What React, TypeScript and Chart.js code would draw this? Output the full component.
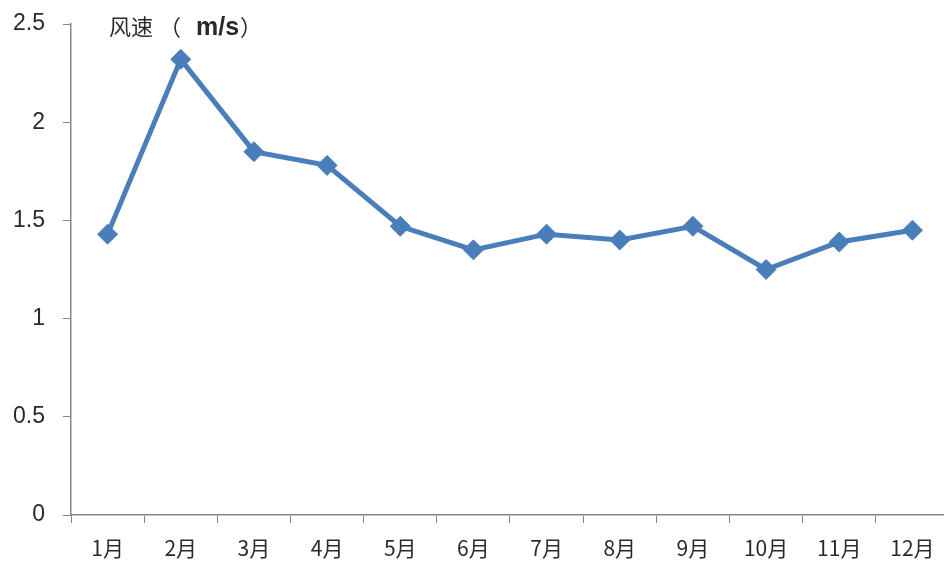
import React, { useEffect, useRef } from "react";
import { Chart, registerables } from "chart.js";

Chart.register(...registerables);

const categories = ["1月", "2月", "3月", "4月", "5月", "6月", "7月", "8月", "9月", "10月", "11月", "12月"];
const windSpeed = [1.43, 2.32, 1.85, 1.78, 1.47, 1.35, 1.43, 1.4, 1.47, 1.25, 1.39, 1.45];
const yMin = 0;
const yMax = 2.5;
const yStep = 0.5;
const titleParts = ["风速", "（", "m/s", "）"];

const FONT = "'Noto Sans CJK SC', 'Noto Sans', sans-serif";

const titlePlugin = {
  id: "cornerTitle",
  afterDraw(chart: any) {
    const ctx = chart.ctx;
    ctx.save();
    ctx.fillStyle = "#2a2a2a";
    ctx.textBaseline = "middle";
    ctx.textAlign = "left";
    const xs = [109, 159, 196, 240];
    const y = 27;
    const fonts = [`normal 22px ${FONT}`, `normal 22px ${FONT}`, `bold 25px 'Liberation Sans', sans-serif`, `normal 22px ${FONT}`];
    titleParts.forEach((t, i) => {
      ctx.font = fonts[i];
      ctx.fillText(t, xs[i], i === 2 ? y + 1 : y);
    });
    ctx.restore();
  },
};

export default function App() {
  const ref = useRef<HTMLCanvasElement | null>(null);
  useEffect(() => {
    if (!ref.current) return;
    const chart = new Chart(ref.current, {
      type: "line",
      data: {
        labels: categories,
        datasets: [
          {
            data: windSpeed,
            borderColor: "#4A7EBB",
            backgroundColor: "#4A7EBB",
            borderWidth: 5,
            pointStyle: "rectRot",
            pointRadius: 10,
            pointBorderWidth: 1,
            pointBackgroundColor: "#4A7EBB",
            pointBorderColor: "#4A7EBB",
            tension: 0,
            clip: false as any,
          },
        ],
      },
      options: {
        responsive: false,
        animation: false,
        layout: { autoPadding: false, padding: { top: 24, right: 0, left: 0, bottom: 0 } },
        plugins: { legend: { display: false }, tooltip: { enabled: false }, title: { display: false } },
        scales: {
          x: {
            offset: true,
            grid: {
              offset: true,
              drawOnChartArea: false,
              drawTicks: true,
              tickLength: 8,
              color: "#868686",
            },
            border: { color: "#868686", width: 1.5 },
            ticks: {
              color: "#2a2a2a",
              font: { size: 21, family: FONT },
              padding: 12,
              maxRotation: 0,
              autoSkip: false,
            },
            afterFit: (s: any) => {
              s.height = 50;
              s.paddingLeft = 0;
              s.paddingRight = 0;
            },
          },
          y: {
            min: yMin,
            max: yMax,
            grid: {
              drawOnChartArea: false,
              drawTicks: true,
              tickLength: 8,
              color: "#868686",
            },
            border: { color: "#868686", width: 1.5 },
            ticks: {
              stepSize: yStep,
              color: "#2a2a2a",
              font: { size: 23, family: "'Liberation Sans', 'Noto Sans', sans-serif" },
              padding: 18,
              callback: (v: any) => String(Number(v)),
            },
            afterFit: (s: any) => {
              s.width = 71;
              s.paddingTop = 0;
              s.paddingBottom = 0;
            },
          },
        },
      },
      plugins: [titlePlugin],
    });
    return () => chart.destroy();
  }, []);
  return (
    <div style={{ position: "fixed", left: 0, top: 0, width: 944, height: 565, overflow: "hidden", background: "#fff" }}>
      <canvas ref={ref} width={949} height={565} style={{ display: "block" }} />
    </div>
  );
}
